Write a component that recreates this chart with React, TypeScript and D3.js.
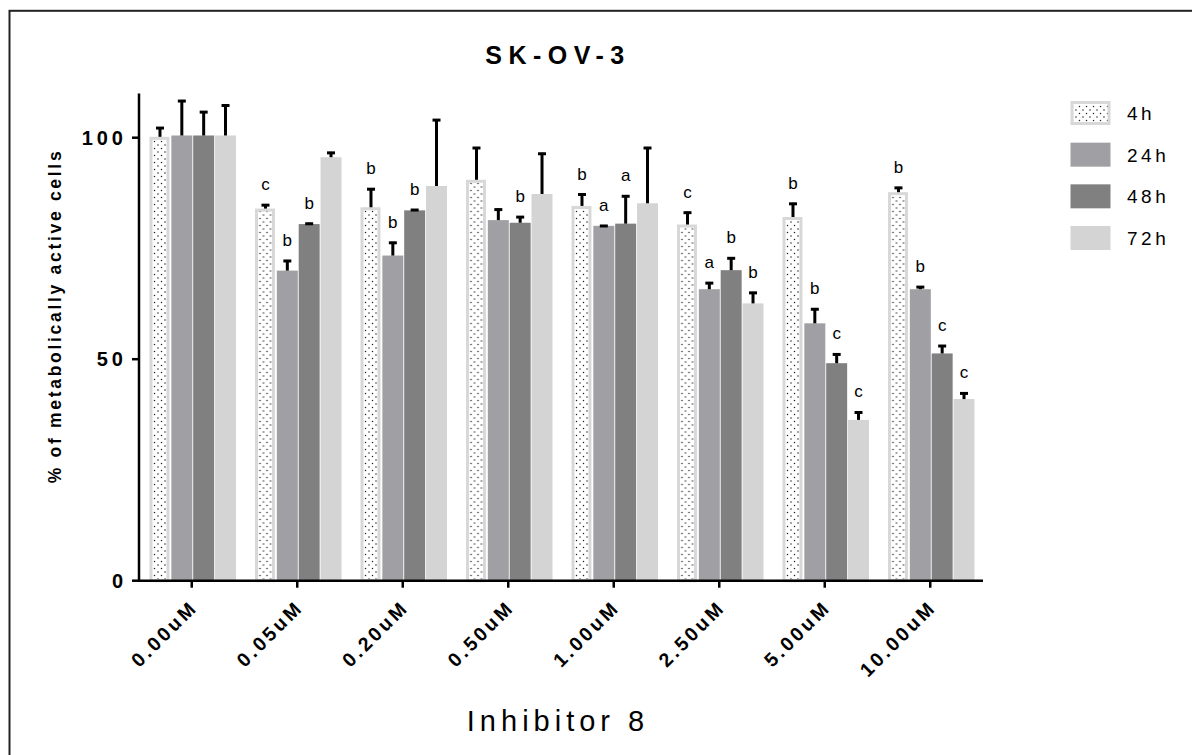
import React from 'react';
import * as d3 from 'd3';

const doses = ['0.00uM', '0.05uM', '0.20uM', '0.50uM', '1.00uM', '2.50uM', '5.00uM', '10.00uM'];
const timepoints = ['4h', '24h', '48h', '72h'];

// mean values per time point, one entry per dose
const mean4h = [100.2, 84.0, 84.3, 90.5, 84.6, 80.4, 82.1, 87.7];
const mean24h = [100.5, 70.0, 73.4, 81.4, 80.1, 65.8, 58.1, 65.8];
const mean48h = [100.5, 80.5, 83.6, 80.8, 80.6, 70.1, 49.1, 51.3];
const mean72h = [100.5, 95.6, 89.1, 87.3, 85.2, 62.6, 36.3, 41.0];

// upper end of the error bar
const err4h = [102.4, 85.0, 88.6, 97.9, 87.4, 83.3, 85.3, 88.9];
const err24h = [108.5, 72.4, 76.5, 84.0, 80.3, 67.4, 61.5, 66.5];
const err48h = [106.0, 80.8, 83.9, 82.3, 87.0, 73.0, 51.3, 53.2];
const err72h = [107.5, 96.8, 104.2, 96.6, 97.9, 65.2, 38.2, 42.5];

// significance letters
const sig4h = ['', 'c', 'b', '', 'b', 'c', 'b', 'b'];
const sig24h = ['', 'b', 'b', '', 'a', 'a', 'b', 'b'];
const sig48h = ['', 'b', 'b', 'b', 'a', 'b', 'c', 'c'];
const sig72h = ['', '', '', '', '', 'b', 'c', 'c'];

const yTicks = [0, 50, 100];

const means = [mean4h, mean24h, mean48h, mean72h];
const errs = [err4h, err24h, err48h, err72h];
const sigs = [sig4h, sig24h, sig48h, sig72h];
const fills = ['url(#dots)', '#a0a0a4', '#808080', '#d4d4d4'];

const FONT = 'Liberation Sans, Arial, sans-serif';

export default function App() {
  const left = 139;
  const right = 983;
  const bottom = 580.7;

  const x = d3.scaleBand<string>().domain(doses).range([left, right]).padding(0);
  const inner = d3
    .scaleBand<string>()
    .domain(timepoints)
    .range([10.5, 97])
    .paddingInner(0.04);
  const y = d3.scaleLinear().domain([0, 110]).range([bottom, 93.4]);

  const legendY = d3.scalePoint<string>().domain(timepoints).range([101, 226]);

  return (
    <svg
      width={1192}
      height={755}
      style={{ position: 'absolute', left: 0, top: 0, background: '#fff' }}
      fontFamily={FONT}
    >
      <defs>
        <pattern id="dots" width={7} height={7} patternUnits="userSpaceOnUse">
          <rect width={7} height={7} fill="#fff" />
          <circle cx={1.5} cy={1.5} r={0.75} fill="#222" />
          <circle cx={5} cy={5} r={0.75} fill="#222" />
        </pattern>
      </defs>

      {/* frame */}
      <rect x={9.5} y={10.8} width={1300} height={900} fill="none" stroke="#222" strokeWidth={2} />

      <text
        x={558}
        y={64}
        textAnchor="middle"
        fontSize={25}
        fontWeight="bold"
        letterSpacing={6.5}
      >
        SK-OV-3
      </text>

      {/* bars */}
      {doses.map((dose, i) => (
        <g key={dose} transform={`translate(${x(dose)},0)`}>
          {timepoints.map((tp, k) => {
            const bx = inner(tp)!;
            const bw = inner.bandwidth();
            const top = y(means[k][i]);
            const et = y(errs[k][i]);
            const cx = bx + bw / 2;
            return (
              <g key={tp}>
                {k === 0 ? (
                  <rect
                    x={bx + 1.5}
                    y={top + 1.5}
                    width={bw - 4}
                    height={bottom - top - 1.5}
                    fill={fills[k]}
                    stroke="#d8d8d8"
                    strokeWidth={3}
                  />
                ) : (
                  <rect x={bx} y={top} width={bw} height={bottom - top} fill={fills[k]} />
                )}
                <line x1={cx} x2={cx} y1={top} y2={et} stroke="#000" strokeWidth={3} />
                <line x1={cx - 4} x2={cx + 4} y1={et + 1} y2={et + 1} stroke="#000" strokeWidth={3} />
                {sigs[k][i] && (
                  <text x={cx} y={et - 14} textAnchor="middle" fontSize={17}>
                    {sigs[k][i]}
                  </text>
                )}
              </g>
            );
          })}
        </g>
      ))}

      {/* y axis */}
      <line x1={left} x2={left} y1={y(110)} y2={bottom + 1.2} stroke="#000" strokeWidth={2.5} />
      {yTicks.map(t => (
        <g key={t}>
          <line x1={left - 7} x2={left} y1={y(t)} y2={y(t)} stroke="#000" strokeWidth={2.5} />
          <text
            x={left - 12}
            y={y(t) + 7}
            textAnchor="end"
            fontSize={20}
            fontWeight="bold"
            letterSpacing={4}
          >
            {t}
          </text>
        </g>
      ))}
      <text
        transform="translate(61,316) rotate(-90)"
        textAnchor="middle"
        fontSize={17.5}
        fontWeight="bold"
        letterSpacing={2.7}
      >
        % of metabolically active cells
      </text>

      {/* x axis */}
      <line x1={left - 1.2} x2={right} y1={bottom} y2={bottom} stroke="#000" strokeWidth={2.5} />
      {doses.map(d => {
        const tx = x(d)! + x.bandwidth() / 2;
        return (
          <g key={d}>
            <line x1={tx} x2={tx} y1={bottom} y2={bottom + 7} stroke="#000" strokeWidth={2.5} />
            <text
              transform={`translate(${tx + 7},${bottom + 28}) rotate(-45)`}
              textAnchor="end"
              fontSize={19.5}
              fontWeight="bold"
              letterSpacing={3}
            >
              {d}
            </text>
          </g>
        );
      })}
      <text x={558} y={731} textAnchor="middle" fontSize={29} letterSpacing={5}>
        Inhibitor 8
      </text>

      {/* legend */}
      {timepoints.map((tp, k) => {
        const ly = legendY(tp)!;
        return (
          <g key={tp}>
            {k === 0 ? (
              <rect x={1072} y={ly + 1.5} width={37} height={21} fill={fills[k]} stroke="#d8d8d8" strokeWidth={3} />
            ) : (
              <rect x={1070.5} y={ly} width={40} height={24} fill={fills[k]} />
            )}
            <text x={1127} y={ly + 19} fontSize={19} letterSpacing={3.5}>
              {tp}
            </text>
          </g>
        );
      })}
    </svg>
  );
}
